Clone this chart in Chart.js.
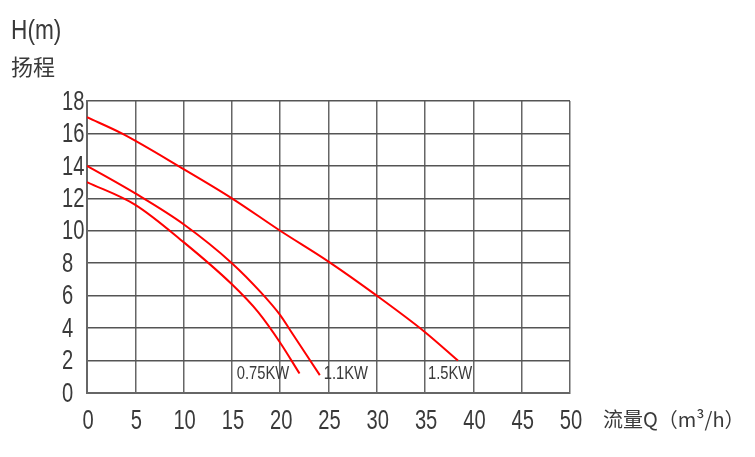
<!DOCTYPE html>
<html>
<head>
<meta charset="utf-8">
<script src="https://cdn.jsdelivr.net/npm/chart.js@4/dist/chart.umd.min.js"></script>
<style>
  html, body { margin: 0; padding: 0; background: #fff; }
  #wrap { width: 755px; height: 457px; }
</style>
</head>
<body>
<div id="wrap"><canvas id="pumpChart" width="755" height="457"></canvas></div>
<script>
// flow Q (m3/h) and head H (m)
const q075 = [0, 5, 10, 15, 17.7, 20, 22];
const h075 = [13, 11.6, 9.3, 6.7, 5.0, 3.1, 1.2];
const q11 = [0, 5, 10, 15, 18, 20, 21, 24.1];
const h11 = [14, 12.3, 10.4, 8, 6.2, 4.8, 3.9, 1.1];
const q15 = [0, 3.6, 10, 15, 20, 25, 30, 35, 38.4];
const h15 = [17, 16, 13.8, 12, 10, 8.1, 6, 3.75, 2];

const seriesNames = ['0.75KW', '1.1KW', '1.5KW'];
// where each curve name sits, in chart units
const labelX = [15.5, 24.5, 35.3];
const labelY = [1.15, 1.15, 1.15];

const xTicks = [0, 5, 10, 15, 20, 25, 30, 35, 40, 45, 50];
const yTicks = [0, 2, 4, 6, 8, 10, 12, 14, 16, 18];

const sans = '"Liberation Sans", Arial, sans-serif';
const cjk = '"Noto Sans CJK SC", "Noto Sans", sans-serif';

function toPoints(xs, ys) {
  return xs.map((x, i) => ({ x: x, y: ys[i] }));
}

function curve(xs, ys) {
  return {
    data: toPoints(xs, ys),
    showLine: true,
    borderColor: '#ff0000',
    borderWidth: 2,
    pointRadius: 0,
    cubicInterpolationMode: 'monotone',
    fill: false
  };
}

// the source uses a tall narrow face, so squeeze Liberation Sans sideways
function narrowText(c, txt, x, y, size, squeeze, align) {
  c.save();
  c.font = size + 'px ' + sans;
  const w = c.measureText(txt).width * squeeze;
  let left = x;
  if (align === 'center') left = x - w / 2;
  if (align === 'right') left = x - w;
  c.translate(left, y);
  c.scale(squeeze, 1);
  c.textAlign = 'left';
  c.textBaseline = 'middle';
  c.fillText(txt, 0, 0);
  c.restore();
}

const textPlugin = {
  id: 'pumpText',
  afterDraw(chart) {
    const c = chart.ctx;
    const xs = chart.scales.x, ys = chart.scales.y;
    c.save();
    c.fillStyle = '#3a3a3a';
    xs.ticks.forEach(t => {
      narrowText(c, String(t.value), xs.getPixelForValue(t.value) + 1, 421, 28, 0.72, 'center');
    });
    ys.ticks.forEach(t => {
      narrowText(c, String(t.value), 62, ys.getPixelForValue(t.value) + 1, 28, 0.72, 'left');
    });
    seriesNames.forEach((name, i) => {
      narrowText(c, name, xs.getPixelForValue(labelX[i]), ys.getPixelForValue(labelY[i]), 18, 0.82, 'left');
    });
    narrowText(c, 'H(m)', 11, 31, 28, 0.81, 'left');
    c.font = '22px ' + cjk;
    c.textBaseline = 'middle';
    c.textAlign = 'left';
    c.fillText('扬程', 11, 67);
    c.font = '20px ' + cjk;
    c.fillText('流量Q（m³/h）', 603, 419);
    c.restore();
  }
};

new Chart(document.getElementById('pumpChart'), {
  type: 'scatter',
  data: {
    datasets: [curve(q075, h075), curve(q11, h11), curve(q15, h15)]
  },
  options: {
    responsive: false,
    animation: false,
    layout: { padding: { left: 0, right: 185, top: 101, bottom: 0 } },
    plugins: {
      legend: { display: false },
      tooltip: { enabled: false }
    },
    scales: {
      x: {
        type: 'linear',
        min: 0,
        max: 50,
        afterBuildTicks: s => { s.ticks = xTicks.map(v => ({ value: v })); },
        afterFit: s => { s.height = 64; },
        grid: { color: '#666', lineWidth: 1.5, drawTicks: false },
        border: { color: '#666', width: 2 },
        ticks: { display: false }
      },
      y: {
        type: 'linear',
        min: 0,
        max: 18,
        afterBuildTicks: s => { s.ticks = yTicks.map(v => ({ value: v })); },
        afterFit: s => { s.width = 87; },
        grid: { color: '#555', lineWidth: 1.5, drawTicks: false },
        border: { color: '#666', width: 2 },
        ticks: { display: false }
      }
    }
  },
  plugins: [textPlugin]
});
</script>
</body>
</html>
